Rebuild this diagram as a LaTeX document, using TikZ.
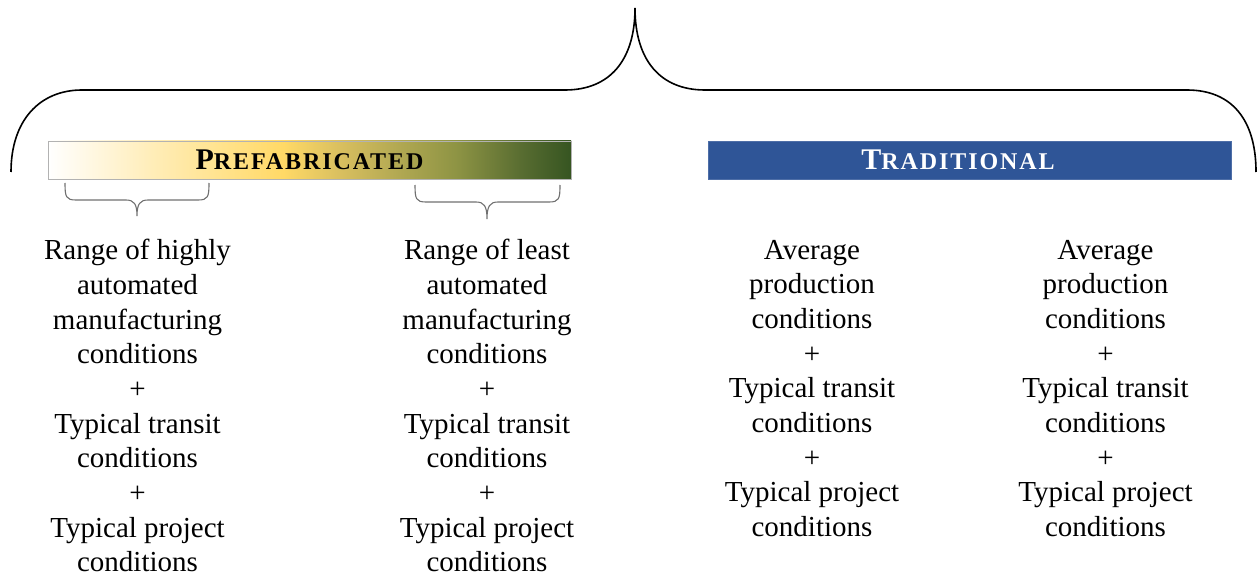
\documentclass[tikz,border=0pt]{standalone}
\usepackage{fontspec}
\setmainfont{Liberation Serif}
\newfontfamily\headfont{Liberation Serif}[LetterSpace=8]
\definecolor{pfA}{HTML}{FFEDB8}
\definecolor{pfB}{HTML}{FFD966}
\definecolor{pfC}{HTML}{DCC160}
\definecolor{pfD}{HTML}{B8AC55}
\definecolor{pfE}{HTML}{8E9444}
\definecolor{pfF}{HTML}{566B30}
\definecolor{pfG}{HTML}{365521}
\definecolor{tradblue}{HTML}{2F5597}
\definecolor{bracegray}{HTML}{707070}
\pgfdeclarehorizontalshading{prefab}{100bp}{color(0bp)=(white); color(25bp)=(white); color(35bp)=(pfA); color(47.5bp)=(pfB); color(52.5bp)=(pfC); color(57.5bp)=(pfD); color(64bp)=(pfE); color(70.5bp)=(pfF); color(75bp)=(pfG); color(100bp)=(pfG)}
\newcommand{\headtext}[2]{{\headfont\bfseries\fontsize{30}{31}\selectfont #1\fontsize{24}{25}\selectfont #2}}
\begin{document}
\begin{tikzpicture}[x=1pt,y=-1pt,
  bigbrace/.style={line width=1.6pt,black},
  smallbrace/.style={line width=1.1pt,bracegray},
  bar/.style={minimum width=523pt,minimum height=38pt,inner sep=0pt,outer sep=0pt},
  coltext/.style={align=center,anchor=north,inner sep=0pt,font=\fontsize{29}{34.7}\selectfont}]
\useasboundingbox (0,0) rectangle (1257,580);
% big brace
\draw[bigbrace] (11,172) .. controls (11,120) and (40,90) .. (82,90) -- (565,90)
  .. controls (610,90) and (635,60) .. (635,8)
  .. controls (635,60) and (660,90) .. (705,90) -- (1187,90)
  .. controls (1232,90) and (1256,120) .. (1256,172);
% bars
\node[bar,shade,shading=prefab,draw=gray!60,line width=0.8pt] (prefab) at (309.5,160) {\headtext{P}{REFABRICATED}};
\node[bar,fill=tradblue,draw=tradblue!85!white,line width=0.6pt,text=white] (trad) at (970,160) {\hspace*{-24pt}\headtext{T}{RADITIONAL}};
% small braces
\draw[smallbrace] (65,183) .. controls (65,197) and (66,200) .. (76,200) -- (126,200)
  .. controls (134,200) and (137,204) .. (137,216)
  .. controls (137,204) and (140,200) .. (148,200) -- (198,200)
  .. controls (208,200) and (209,197) .. (209,183);
\draw[smallbrace] (415,185) .. controls (415,199) and (416,202) .. (426,202) -- (476,202)
  .. controls (484,202) and (487,206) .. (487,219)
  .. controls (487,206) and (490,202) .. (498,202) -- (549,202)
  .. controls (559,202) and (560,199) .. (560,185);
% column texts
\node[coltext] (c1) at (137.5,239) {Range of highly\\automated\\manufacturing\\conditions\\+\\Typical transit\\conditions\\+\\Typical project\\conditions};
\node[coltext] (c2) at (487,239) {Range of least\\automated\\manufacturing\\conditions\\+\\Typical transit\\conditions\\+\\Typical project\\conditions};
\node[coltext] (c3) at (812,239.7) {Average\\production\\conditions\\+\\Typical transit\\conditions\\+\\Typical project\\conditions};
\node[coltext] (c4) at (1105.5,239.7) {Average\\production\\conditions\\+\\Typical transit\\conditions\\+\\Typical project\\conditions};
\end{tikzpicture}
\end{document}
